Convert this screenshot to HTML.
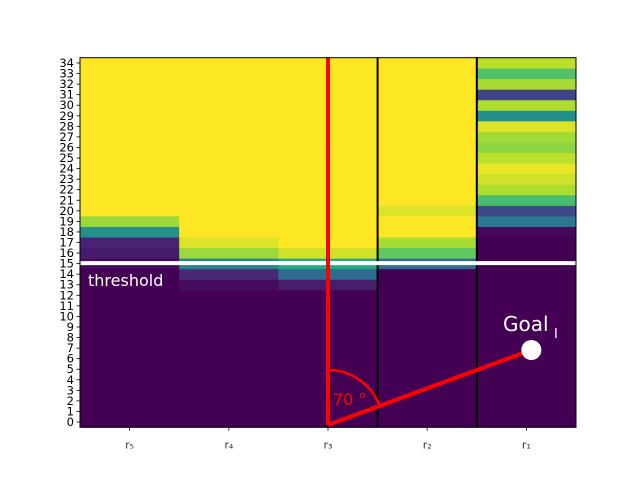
<!DOCTYPE html>
<html><head><meta charset="utf-8"><style>
body{margin:0;background:#fff;width:640px;height:480px;overflow:hidden}
svg{display:block;font-family:"DejaVu Sans","Liberation Sans",sans-serif}
</style></head><body>
<svg id="chart" width="640" height="480" viewBox="0 0 640 480">
<g id="cells"></g>
<g id="overlay"></g>
<g id="axes"></g>
</svg>
<script>
const categories = ["r\u2085","r\u2084","r\u2083","r\u2082","r\u2081"];
const nRows = 35;
// colour values (0..1 viridis) per column, listed row 0 -> row 34
const colR5 = [0,0,0,0,0,0,0,0,0,0,0,0,0,0,0,0.03,0.07,0.1,0.5,0.85,1,1,1,1,1,1,1,1,1,1,1,1,1,1,1];
const colR4 = [0,0,0,0,0,0,0,0,0,0,0,0,0,0.03,0.12,0.45,0.85,0.95,1,1,1,1,1,1,1,1,1,1,1,1,1,1,1,1,1];
const colR3 = [0,0,0,0,0,0,0,0,0,0,0,0,0,0.08,0.35,0.6,0.93,1,1,1,1,1,1,1,1,1,1,1,1,1,1,1,1,1,1];
const colR2 = [0,0,0,0,0,0,0,0,0,0,0,0,0,0,0,0.35,0.75,0.87,1,1,0.95,1,1,1,1,1,1,1,1,1,1,1,1,1,1];
const colR1 = [0,0,0,0,0,0,0,0,0,0,0,0,0,0,0,0,0,0,0.02,0.4,0.22,0.7,0.88,0.93,0.97,0.9,0.83,0.86,0.95,0.5,0.88,0.2,0.87,0.72,0.9];
const columns = [colR5,colR4,colR3,colR2,colR1];
const thresholdValue = 15;
const angleLabel = "70 °";
const goalX = 4.05, goalY = 6.82;
const originX = 2, originY = -0.28;

const L=80,R=576,T=57.7,B=427.3;
const colW=(R-L)/categories.length, rowH=(B-T)/nRows;
function x(v){return L+(v+0.5)*colW;}
function y(v){return B-(v+0.5)*rowH;}
const VIR=[[68,1,84],[72,40,120],[62,74,137],[49,104,142],[38,130,142],[31,158,137],[53,183,121],[109,205,89],[180,222,44],[253,231,37]];
function viridis(t){t=Math.max(0,Math.min(1,t))*9;const i=Math.min(8,Math.floor(t)),f=t-i;const a=VIR[i],b=VIR[i+1];
return "rgb("+a.map((c,k)=>Math.round(c+(b[k]-c)*f)).join(",")+")";}
const NS="http://www.w3.org/2000/svg";
function mk(p,tag,attrs){const e=document.createElementNS(NS,tag);for(const k in attrs)e.setAttribute(k,attrs[k]);p.appendChild(e);return e;}
const cells=document.getElementById("cells"),ov=document.getElementById("overlay"),ax=document.getElementById("axes");
columns.forEach((col,c)=>{col.forEach((v,r)=>{
 const e=mk(cells,"rect",{x:x(c)-colW/2,y:y(r)-rowH/2-0.3,width:colW+0.3,height:rowH+0.6,fill:viridis(v)});
 
 
});});
// column separators
[2.5,3.5].forEach(v=>{const e=mk(ov,"line",{x1:x(v),x2:x(v),y1:T,y2:B,stroke:"#000","stroke-width":2});
 
 });
// threshold
let e=mk(ov,"line",{x1:L,x2:R,y1:y(thresholdValue)-0.5,y2:y(thresholdValue)-0.5,stroke:"#fff","stroke-width":4});


e=mk(ov,"text",{x:88,y:286,fill:"#fff","font-size":16});e.textContent="threshold";


// red vertical
e=mk(ov,"line",{x1:x(originX),x2:x(originX),y1:T,y2:y(originY),stroke:"red","stroke-width":4});


const ox=x(originX),oy=y(originY),gx=x(goalX),gy=y(goalY);
e=mk(ov,"line",{x1:ox,y1:oy,x2:gx,y2:gy,stroke:"red","stroke-width":4});


const ang=Math.atan2(gy-oy,gx-ox),rA=55;
e=mk(ov,"path",{d:`M${ox},${oy-rA} A${rA},${rA} 0 0 1 ${ox+rA*Math.cos(ang)},${oy+rA*Math.sin(ang)}`,fill:"none",stroke:"red","stroke-width":2.5});


e=mk(ov,"text",{x:ox+5,y:oy-20,fill:"red","font-size":16});e.textContent=angleLabel;


e=mk(ov,"circle",{cx:gx,cy:gy,r:10,fill:"#fff"});


e=mk(ov,"text",{x:503,y:331,fill:"#fff","font-size":20});e.textContent="Goal";


e=mk(ov,"text",{x:554,y:338,fill:"#fff","font-size":13});e.textContent="I";


// frame
e=mk(ax,"rect",{x:L,y:T,width:R-L,height:B-T,fill:"none",stroke:"#000","stroke-width":1});


for(let r=0;r<nRows;r++){
 mk(ax,"line",{x1:L-3.5,x2:L,y1:y(r),y2:y(r),stroke:"#000","stroke-width":0.8});
 const t=mk(ax,"text",{x:L-6,y:y(r)+4,"text-anchor":"end","font-size":11.5,fill:"#000"});t.textContent=String(r);
 
 
}
categories.forEach((c,i)=>{
 mk(ax,"line",{x1:x(i),x2:x(i),y1:B,y2:B+3.5,stroke:"#000","stroke-width":0.8});
 const t=mk(ax,"text",{x:x(i),y:B+21,"text-anchor":"middle","font-size":11,fill:"#333"});t.textContent=c;
 
 
});
</script>
</body></html>
